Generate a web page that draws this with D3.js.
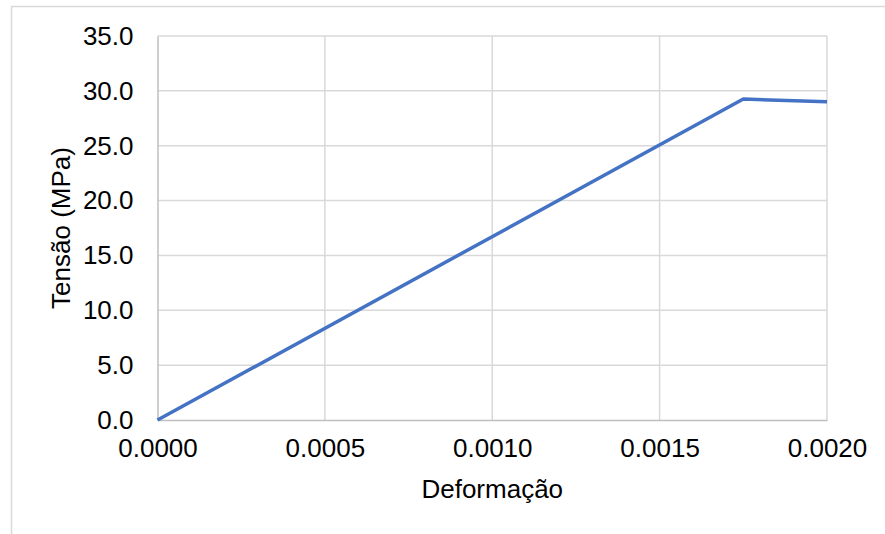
<!DOCTYPE html>
<html><head><meta charset="utf-8">
<script src="https://cdn.jsdelivr.net/npm/d3@7"></script>
<style>body{margin:0;background:#fff}svg{display:block}text{font-family:"Liberation Sans",Arial,sans-serif;fill:#000}</style>
</head><body>
<script>
const strain = [0.0000, 0.00175, 0.0020];
const stress = [0.0, 29.25, 29.0];
const xTicks = [0.0000, 0.0005, 0.0010, 0.0015, 0.0020];
const yTicks = [0, 5, 10, 15, 20, 25, 30, 35];
const xTitle = "Deformação";
const yTitle = "Tensão (MPa)";

const W = 885, H = 534;
const L = 157.5, R = 827, T = 36, B = 420;
const fs = 26;
const svg = d3.select("body").append("svg").attr("width", W).attr("height", H);
svg.append("rect").attr("x", 11.5).attr("y", 6.5).attr("width", W).attr("height", H)
  .attr("fill", "#fff").attr("stroke", "#d9d9d9").attr("stroke-width", 1.5);

const x = d3.scaleLinear().domain([0, 0.002]).range([L, R]);
const y = d3.scaleLinear().domain([0, 35]).range([B, T]);

// gridlines
svg.append("g").selectAll("line.h").data(yTicks.filter(d => d > 0)).join("line")
  .attr("x1", L).attr("x2", R).attr("y1", d => y(d)).attr("y2", d => y(d))
  .attr("stroke", "#d9d9d9").attr("stroke-width", 1.5);
svg.append("g").selectAll("line.v").data(xTicks.filter(d => d > 0)).join("line")
  .attr("y1", T).attr("y2", B).attr("x1", d => x(d)).attr("x2", d => x(d))
  .attr("stroke", "#d9d9d9").attr("stroke-width", 1.5);

// axes
const xAxis = d3.axisBottom(x).tickValues(xTicks).tickFormat(d3.format(".4f")).tickSize(0).tickPadding(19);
const yAxis = d3.axisLeft(y).tickValues(yTicks).tickFormat(d3.format(".1f")).tickSize(0).tickPadding(24);
const gx = svg.append("g").attr("transform", `translate(0,${B})`).call(xAxis);
const gy = svg.append("g").attr("transform", `translate(${L},0)`).call(yAxis);
[gx, gy].forEach(g => {
  g.select(".domain").attr("stroke", "#bfbfbf").attr("stroke-width", 1.5);
  g.selectAll("text").attr("font-size", fs).attr("font-family", "Liberation Sans, Arial, sans-serif").attr("fill", "#000");
});

// line
svg.append("path").datum(strain.map((s, i) => [s, stress[i]]))
  .attr("d", d3.line().x(d => x(d[0])).y(d => y(d[1])))
  .attr("fill", "none").attr("stroke", "#4472c4").attr("stroke-width", 3.5).attr("stroke-linejoin", "round");

// titles
svg.append("text").attr("x", (L + R) / 2).attr("y", 498).attr("text-anchor", "middle")
  .attr("font-size", fs).text(xTitle);
svg.append("text").attr("transform", `translate(70,${(T + B) / 2}) rotate(-90)`).attr("text-anchor", "middle")
  .attr("font-size", fs).text(yTitle);
</script>
</body></html>
